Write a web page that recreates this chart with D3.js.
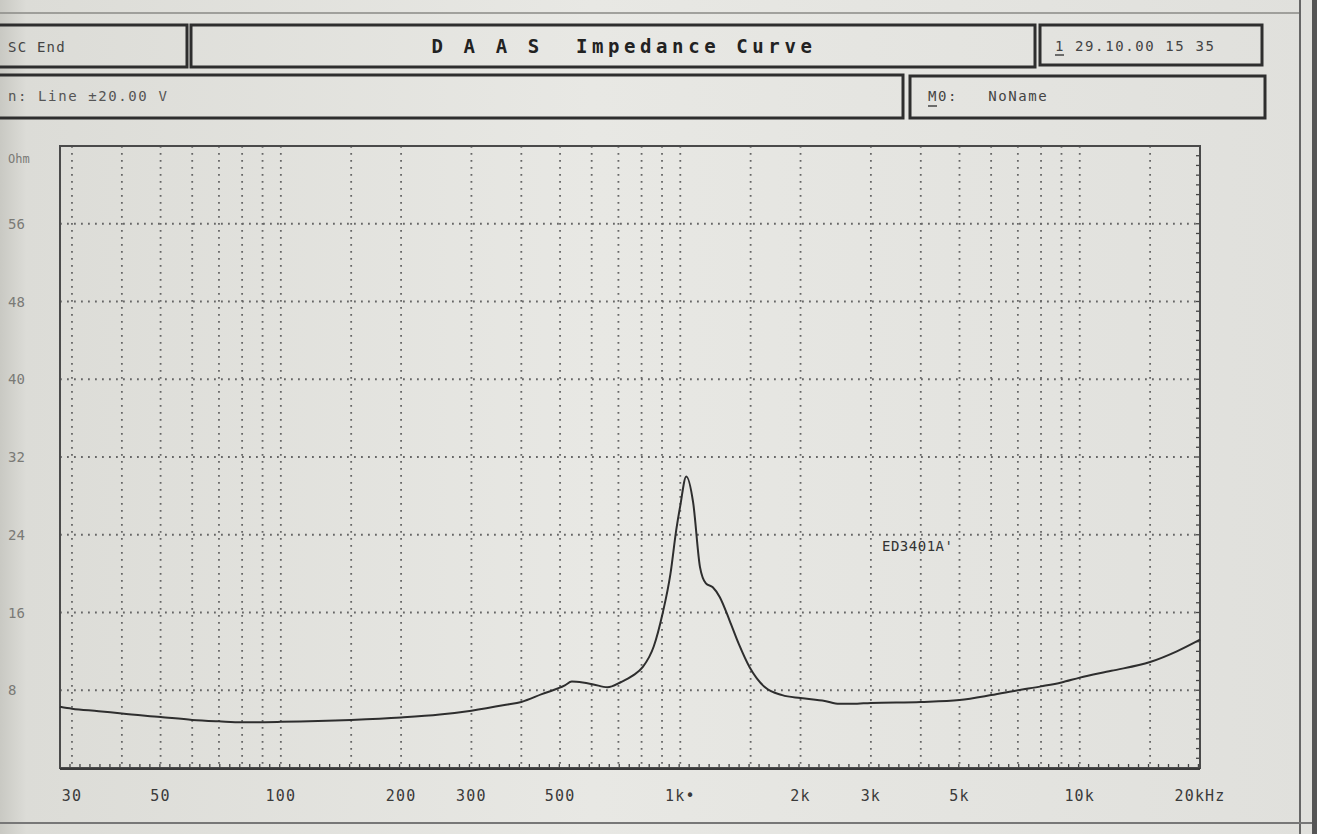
<!DOCTYPE html>
<html>
<head>
<meta charset="utf-8">
<script src="https://cdn.jsdelivr.net/npm/d3@7"></script>
<style>
  html, body { margin: 0; padding: 0; background: #e2e2de; }
  svg { display: block; }
  text { font-family: "DejaVu Sans Mono", "Liberation Mono", monospace; white-space: pre; }
</style>
</head>
<body>
<div id="chart"></div>
<script>
// impedance curve
const freqs = [28, 30, 35, 40, 50, 60, 70, 80, 100, 150, 200, 250, 300, 366, 400, 450, 514, 535, 570, 606, 657, 711, 760, 806, 858, 903, 945, 977, 1000, 1035, 1077, 1120, 1159, 1206, 1255, 1328, 1400, 1490, 1630, 1800, 2000, 2300, 2500, 2700, 3000, 4000, 5000, 6000, 7000, 8000, 9000, 10000, 12000, 15000, 17500, 20000];
const ohms = [6.3, 6.1, 5.85, 5.6, 5.25, 4.95, 4.8, 4.7, 4.75, 4.95, 5.2, 5.5, 5.9, 6.5, 6.8, 7.6, 8.5, 8.9, 8.8, 8.6, 8.3, 8.85, 9.5, 10.4, 12.5, 15.9, 20, 24.5, 27, 30, 27.3, 20.7, 19, 18.6, 17.6, 15.2, 12.8, 10.4, 8.3, 7.5, 7.2, 6.9, 6.6, 6.6, 6.7, 6.8, 7.0, 7.5, 8.0, 8.4, 8.8, 9.3, 10.0, 10.9, 12.0, 13.2];

const gridFreqs = [30, 40, 50, 60, 70, 80, 90, 100, 150, 200, 300, 400, 500, 600, 700, 800, 900, 1000, 1500, 2000, 3000, 4000, 5000, 6000, 7000, 8000, 9000, 10000, 15000];
const xLabelFreqs = [30, 50, 100, 200, 300, 500, 1000, 2000, 3000, 5000, 10000, 20000];
const xLabelText = ["30", "50", "100", "200", "300", "500", "1k\u2022", "2k", "3k", "5k", "10k", "20kHz"];
const yGrid = [8, 16, 24, 32, 40, 48, 56];
const yLabelText = ["8", "16", "24", "32", "40", "48", "56"];
const curveName = "ED3401A'";

const W = 1317, H = 834;
const plot = { left: 60, right: 1200, top: 146, bottom: 768 };

const svg = d3.select("#chart").append("svg")
  .attr("width", W).attr("height", H);

// paper tone
const grad = svg.append("defs").append("linearGradient").attr("id", "paper");
grad.append("stop").attr("offset", "0%").attr("stop-color", "#c9c9c3");
grad.append("stop").attr("offset", "2%").attr("stop-color", "#dcdcd7");
grad.append("stop").attr("offset", "45%").attr("stop-color", "#e8e8e4");
grad.append("stop").attr("offset", "100%").attr("stop-color", "#e0e0dc");
svg.append("rect").attr("width", W).attr("height", H).attr("fill", "url(#paper)");

// page border lines
svg.append("line").attr("x1", 0).attr("x2", 1300).attr("y1", 13).attr("y2", 13)
  .attr("stroke", "#8a8a86").attr("stroke-width", 1.5);
svg.append("line").attr("x1", 1300).attr("x2", 1300).attr("y1", 0).attr("y2", H)
  .attr("stroke", "#666").attr("stroke-width", 2);
svg.append("line").attr("x1", 0).attr("x2", W).attr("y1", 823).attr("y2", 823)
  .attr("stroke", "#777").attr("stroke-width", 2);
svg.append("rect").attr("x", 1312).attr("y", 0).attr("width", 5).attr("height", H).attr("fill", "#555");

// header boxes
const boxes = [
  { x: -4, y: 25, w: 191, h: 42 },
  { x: 191, y: 25, w: 844, h: 42 },
  { x: 1040, y: 25, w: 222, h: 40 },
  { x: -4, y: 75, w: 907, h: 43 },
  { x: 910, y: 76, w: 355, h: 42 }
];
svg.selectAll(".hbox").data(boxes).enter().append("rect")
  .attr("class", "hbox")
  .attr("x", d => d.x).attr("y", d => d.y)
  .attr("width", d => d.w).attr("height", d => d.h)
  .attr("fill", "none").attr("stroke", "#2e2e2e").attr("stroke-width", 3);

svg.append("text").attr("x", 8).attr("y", 52)
  .attr("font-size", 14).attr("letter-spacing", 1.2).attr("fill", "#444")
  .text("SC End");
svg.append("text").attr("x", 624).attr("y", 53).attr("text-anchor", "middle")
  .attr("font-size", 19).attr("font-weight", "bold").attr("letter-spacing", 4.6).attr("fill", "#222")
  .text("D A A S  Impedance Curve");
svg.append("text").attr("x", 1055).attr("y", 51)
  .attr("font-size", 14).attr("letter-spacing", 1.6).attr("fill", "#444")
  .text("1 29.10.00 15 35");
svg.append("line").attr("x1", 1055).attr("x2", 1064).attr("y1", 55).attr("y2", 55)
  .attr("stroke", "#444").attr("stroke-width", 1.5);
svg.append("text").attr("x", 8).attr("y", 101)
  .attr("font-size", 14).attr("letter-spacing", 1.6).attr("fill", "#555")
  .text("n: Line \u00b120.00 V");
svg.append("text").attr("x", 928).attr("y", 101)
  .attr("font-size", 14).attr("letter-spacing", 1.6).attr("fill", "#444")
  .text("M0:   NoName");
svg.append("line").attr("x1", 928).attr("x2", 937).attr("y1", 106).attr("y2", 106)
  .attr("stroke", "#444").attr("stroke-width", 1.5);

// scales
const x = d3.scaleLog().domain([28, 20000]).range([plot.left, plot.right]);
const y = d3.scaleLinear().domain([0, 64]).range([plot.bottom, plot.top]);

// dotted grid
svg.append("g").selectAll("line").data(gridFreqs).enter().append("line")
  .attr("x1", d => x(d)).attr("x2", d => x(d))
  .attr("y1", plot.top).attr("y2", plot.bottom)
  .attr("stroke", "#666").attr("stroke-width", 1.8)
  .attr("stroke-dasharray", "1.8,5.2");
svg.append("g").selectAll("line").data(yGrid).enter().append("line")
  .attr("x1", plot.left).attr("x2", plot.right)
  .attr("y1", d => y(d)).attr("y2", d => y(d))
  .attr("stroke", "#666").attr("stroke-width", 1.8)
  .attr("stroke-dasharray", "1.8,5.2");

// minor ticks along bottom and right edges
const minorF = d3.range(0, 115).map(k => 28 * Math.pow(10, k / 40)).filter(f => f <= 20000);
svg.append("g").selectAll("line").data(minorF).enter().append("line")
  .attr("x1", d => x(d)).attr("x2", d => x(d))
  .attr("y1", plot.bottom).attr("y2", plot.bottom - 4)
  .attr("stroke", "#444").attr("stroke-width", 1.3);
svg.append("g").selectAll("line").data(d3.range(0, 65)).enter().append("line")
  .attr("x1", plot.right).attr("x2", plot.right - 4)
  .attr("y1", d => y(d)).attr("y2", d => y(d))
  .attr("stroke", "#444").attr("stroke-width", 1.3);

// frame
svg.append("rect")
  .attr("x", plot.left).attr("y", plot.top)
  .attr("width", plot.right - plot.left).attr("height", plot.bottom - plot.top)
  .attr("fill", "none").attr("stroke", "#4a4a4a").attr("stroke-width", 2);
svg.append("line").attr("x1", plot.left).attr("x2", plot.right)
  .attr("y1", plot.bottom + 1).attr("y2", plot.bottom + 1)
  .attr("stroke", "#3a3a3a").attr("stroke-width", 2);

// axis labels
svg.append("g").selectAll("text").data(xLabelFreqs).enter().append("text")
  .attr("x", d => x(d)).attr("y", 801).attr("text-anchor", "middle")
  .attr("font-size", 15).attr("letter-spacing", 1.2).attr("fill", "#3a3a3a")
  .text((d, i) => xLabelText[i]);
svg.append("g").selectAll("text").data(yGrid).enter().append("text")
  .attr("x", 8).attr("y", d => y(d) + 5)
  .attr("font-size", 14).attr("fill", "#7a7a76")
  .text((d, i) => yLabelText[i]);
svg.append("text").attr("x", 8).attr("y", y(64) + 17)
  .attr("font-size", 12).attr("fill", "#7a7a76").text("Ohm");

// impedance curve
const line = d3.line()
  .x((d, i) => x(freqs[i]))
  .y(d => y(d))
  .curve(d3.curveMonotoneX);
svg.append("path").datum(ohms)
  .attr("d", line)
  .attr("fill", "none").attr("stroke", "#2e2e2e").attr("stroke-width", 2);

svg.append("text").attr("x", 882).attr("y", 551)
  .attr("font-size", 14).attr("letter-spacing", 0.5).attr("fill", "#333")
  .text(curveName);
</script>
</body>
</html>
